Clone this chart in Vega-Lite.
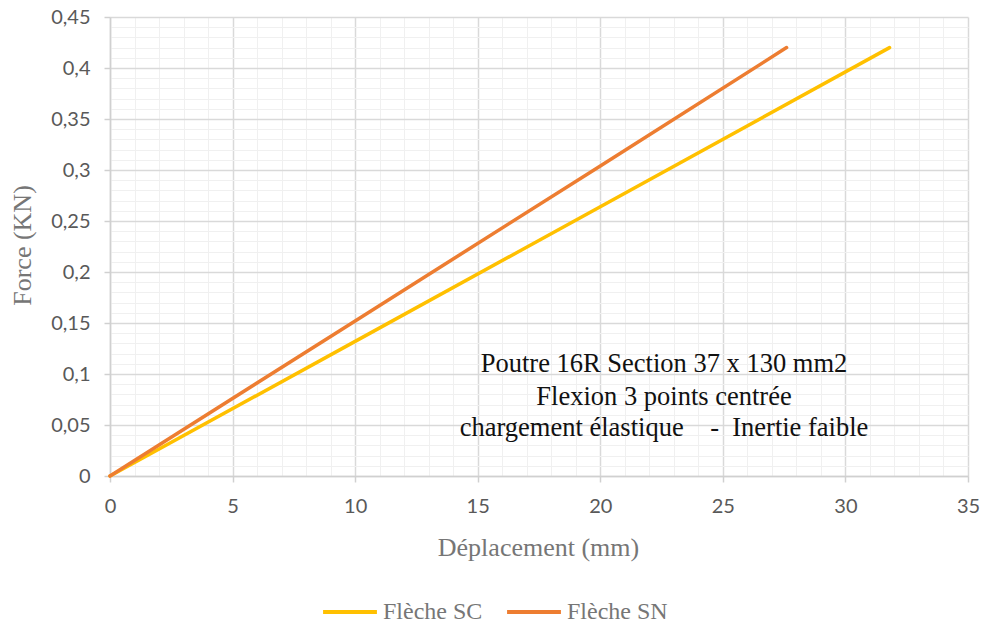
{
  "$schema": "https://vega.github.io/schema/vega-lite/v6.json",
  "width": 858,
  "height": 459,
  "autosize": {"type": "none"},
  "padding": {"left": 110, "top": 17, "right": 15, "bottom": 152},
  "background": "white",
  "config": {"view": {"stroke": null}, "font": "Liberation Serif"},
  "datasets": {
    "curves": [
      {"serie": "Flèche SC", "deplacement": 0, "force": 0},
      {"serie": "Flèche SC", "deplacement": 10, "force": 0.132},
      {"serie": "Flèche SC", "deplacement": 20, "force": 0.264},
      {"serie": "Flèche SC", "deplacement": 31.8, "force": 0.42},
      {"serie": "Flèche SN", "deplacement": 0, "force": 0},
      {"serie": "Flèche SN", "deplacement": 10, "force": 0.152},
      {"serie": "Flèche SN", "deplacement": 20, "force": 0.304},
      {"serie": "Flèche SN", "deplacement": 27.6, "force": 0.42}
    ],
    "notes": [
      {"deplacement": 22.6, "force": 0.1098, "label": "Poutre 16R Section 37 x 130 mm2"},
      {"deplacement": 22.6, "force": 0.0775, "label": "Flexion 3 points centrée"},
      {"deplacement": 22.6, "force": 0.047, "label": "chargement élastique \u00a0\u00a0\u00a0-\u00a0\u00a0Inertie faible"}
    ]
  },
  "encoding": {
    "x": {
      "field": "deplacement", "type": "quantitative",
      "scale": {"domain": [0, 35], "nice": false, "zero": false},
      "axis": {
        "title": "Déplacement (mm)",
        "titleFont": "Liberation Serif", "titleFontSize": 26, "titleFontWeight": "normal", "titleColor": "#767676",
        "titleX": 428, "titleY": 71, "titleBaseline": "middle", "titleAnchor": null,
        "values": [0,1,2,3,4,5,6,7,8,9,10,11,12,13,14,15,16,17,18,19,20,21,22,23,24,25,26,27,28,29,30,31,32,33,34,35],
        "labelExpr": "datum.value % 5 == 0 ? format(datum.value, 'd') : ''",
        "labelFont": "Lato", "labelFontSize": 20, "labelColor": "#595959",
        "labelPadding": 14, "labelFlush": false, "labelOverlap": false, "labelBound": false,
        "tickSize": 6, "tickColor": "#d0d0d0", "tickWidth": 1.5,
        "tickOpacity": {"condition": {"test": "datum.value % 5 == 0", "value": 1}, "value": 0},
        "domainColor": "#d0d0d0", "domainWidth": 1.5,
        "grid": true,
        "gridColor": {"condition": {"test": "datum.value % 5 == 0", "value": "#d9d9d9"}, "value": "#f0f0f0"},
        "gridWidth": {"condition": {"test": "datum.value % 5 == 0", "value": 1.5}, "value": 1}
      }
    },
    "y": {
      "field": "force", "type": "quantitative",
      "scale": {"domain": [0, 0.45], "nice": false},
      "axis": {
        "title": "Force (KN)",
        "titleFont": "Liberation Serif", "titleFontSize": 26, "titleFontWeight": "normal", "titleColor": "#767676",
        "titleX": -88, "titleY": 228, "titleBaseline": "middle", "titleAnchor": null, "titleAngle": -90,
        "values": [0,0.01,0.02,0.03,0.04,0.05,0.06,0.07,0.08,0.09,0.1,0.11,0.12,0.13,0.14,0.15,0.16,0.17,0.18,0.19,0.2,0.21,0.22,0.23,0.24,0.25,0.26,0.27,0.28,0.29,0.3,0.31,0.32,0.33,0.34,0.35,0.36,0.37,0.38,0.39,0.4,0.41,0.42,0.43,0.44,0.45],
        "labelExpr": "round(datum.value*100) % 5 == 0 ? replace(format(datum.value, '~g'), '.', ',') : ''",
        "labelFont": "Lato", "labelFontSize": 20, "labelColor": "#595959",
        "labelPadding": 14, "labelFlush": false, "labelOverlap": false, "labelBound": false,
        "tickSize": 6, "tickColor": "#d0d0d0", "tickWidth": 1.5,
        "tickOpacity": {"condition": {"test": "round(datum.value*100) % 5 == 0", "value": 1}, "value": 0},
        "domainColor": "#d0d0d0", "domainWidth": 1.5,
        "grid": true,
        "gridColor": {"condition": {"test": "round(datum.value*100) % 5 == 0", "value": "#d9d9d9"}, "value": "#f0f0f0"},
        "gridWidth": {"condition": {"test": "round(datum.value*100) % 5 == 0", "value": 1.5}, "value": 1}
      }
    }
  },
  "layer": [
    {
      "data": {"name": "curves"},
      "mark": {"type": "line", "strokeWidth": 3.5, "strokeCap": "round", "strokeJoin": "round"},
      "encoding": {
        "color": {
          "field": "serie", "type": "nominal",
          "scale": {"domain": ["Flèche SC", "Flèche SN"], "range": ["#FFC000", "#ED7D31"]},
          "legend": {
            "title": null, "orient": "none", "direction": "horizontal",
            "legendX": 211, "legendY": 566, "padding": 0,
            "symbolType": "stroke", "symbolSize": 2900, "symbolStrokeWidth": 4,
            "labelFont": "Liberation Serif", "labelFontSize": 24, "labelColor": "#767676",
            "labelOffset": 4, "columnPadding": 16, "labelLimit": 300
          }
        }
      }
    },
    {
      "data": {"name": "notes"},
      "mark": {"type": "text", "font": "Liberation Serif", "fontSize": 26.5, "color": "#111111", "align": "center", "baseline": "middle"},
      "encoding": {
        "text": {"field": "label"}
      }
    }
  ]
}
